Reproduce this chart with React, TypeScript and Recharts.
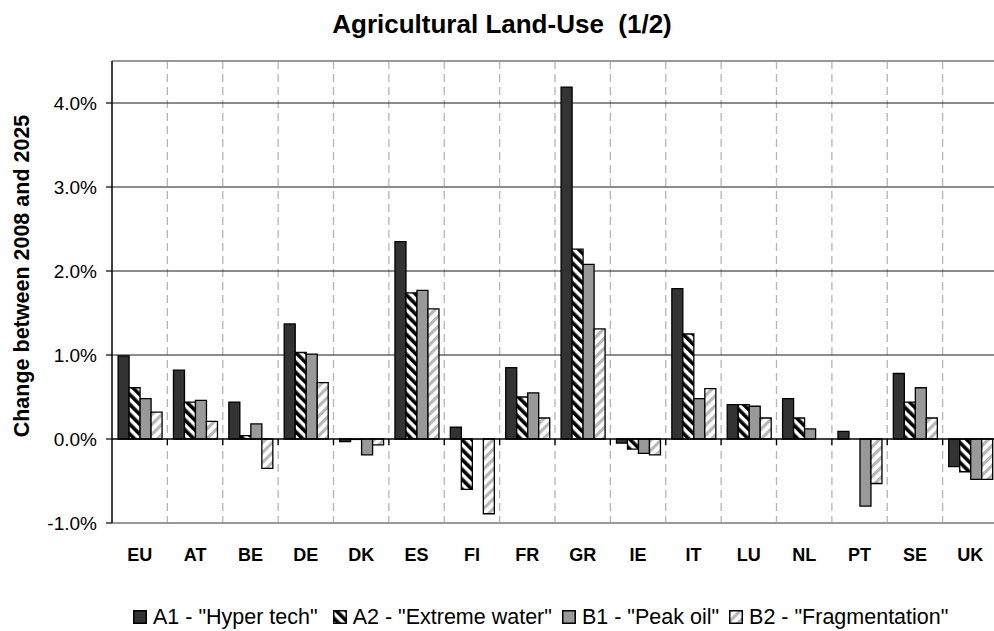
import React from 'react';
import { BarChart, Bar, XAxis, YAxis, CartesianGrid, ReferenceLine, Legend } from 'recharts';

const categories = ['EU', 'AT', 'BE', 'DE', 'DK', 'ES', 'FI', 'FR', 'GR', 'IE', 'IT', 'LU', 'NL', 'PT', 'SE', 'UK'];
const a1HyperTech = [0.99, 0.82, 0.44, 1.37, -0.03, 2.35, 0.14, 0.85, 4.19, -0.05, 1.79, 0.41, 0.48, 0.09, 0.78, -0.33];
const a2ExtremeWater = [0.61, 0.44, 0.04, 1.03, -0.005, 1.74, -0.6, 0.5, 2.26, -0.12, 1.25, 0.41, 0.25, 0.0, 0.44, -0.39];
const b1PeakOil = [0.48, 0.46, 0.18, 1.01, -0.19, 1.77, 0.0, 0.55, 2.08, -0.17, 0.48, 0.39, 0.12, -0.8, 0.61, -0.48];
const b2Fragmentation = [0.32, 0.21, -0.35, 0.67, -0.07, 1.55, -0.89, 0.25, 1.31, -0.19, 0.6, 0.25, 0.0, -0.53, 0.25, -0.48];
const yTicks = [-1, 0, 1, 2, 3, 4];
const gridValues = [1, 2, 3, 4];
const yDomain = [-1, 4.5];

const seriesNames = {
  a1: 'A1 - "Hyper tech"',
  a2: 'A2 - "Extreme water"',
  b1: 'B1 - "Peak oil"',
  b2: 'B2 - "Fragmentation"',
};

const data = categories.map((c, i) => ({
  cat: c,
  a1: a1HyperTech[i],
  a2: a2ExtremeWater[i],
  b1: b1PeakOil[i],
  b2: b2Fragmentation[i],
}));

const FONT = '"Liberation Sans", Arial, sans-serif';

const fills: Record<string, string> = {
  a1: '#333333',
  a2: 'url(#patA2)',
  b1: '#999999',
  b2: 'url(#patB2)',
};

const Patterns = () => (
  <svg width={0} height={0} style={{ position: 'absolute' }}>
    <defs>
      <pattern id="patA2" patternUnits="userSpaceOnUse" width={7} height={7} patternTransform="rotate(-45)">
        <rect x={0} y={0} width={7} height={7} fill="#ffffff" />
        <rect x={0} y={0} width={3.6} height={7} fill="#000000" />
      </pattern>
      <pattern id="patB2" patternUnits="userSpaceOnUse" width={7} height={7} patternTransform="rotate(45)">
        <rect x={0} y={0} width={7} height={7} fill="#ffffff" />
        <rect x={0} y={0} width={3.2} height={7} fill="#b8b8b8" />
      </pattern>
    </defs>
  </svg>
);

const LegendContent = () => {
  const keys = ['a1', 'a2', 'b1', 'b2'];
  return (
    <div style={{ display: 'flex', alignItems: 'center', paddingLeft: 133, fontFamily: FONT, fontSize: 21.5, lineHeight: '22px', color: '#000', whiteSpace: 'nowrap' }}>
      {keys.map((k, i) => (
        <div key={k} style={{ display: 'flex', alignItems: 'center', marginRight: i === 0 ? 15 : 10 }}>
          <svg width={14} height={14} style={{ marginRight: 6, flex: 'none' }}>
            <rect x={0.75} y={0.75} width={12.5} height={12.5} fill={fills[k]} stroke="#000" strokeWidth={1.5} />
          </svg>
          <span>{(seriesNames as any)[k]}</span>
        </div>
      ))}
    </div>
  );
};

const ZeroLine = (props: any) => {
  const { x1, y1, x2, y2 } = props;
  const n = categories.length;
  const step = (x2 - x1) / n;
  const marks = [];
  for (let i = 1; i < n; i++) {
    const x = x1 + i * step;
    marks.push(<line key={i} x1={x} y1={y1} x2={x} y2={y1 + 6} stroke="#000" strokeWidth={1.3} />);
  }
  return (
    <g>
      <line x1={x1} y1={y1} x2={x2} y2={y2} stroke="#000" strokeWidth={1.3} />
      {marks}
    </g>
  );
};

export default function App() {
  return (
    <div style={{ position: 'fixed', left: 0, top: 0, width: 994, height: 631, overflow: 'hidden', background: '#fff' }}>
      <Patterns />
      <div
        style={{
          position: 'absolute',
          left: 0,
          top: 11,
          width: 1004,
          textAlign: 'center',
          fontFamily: FONT,
          fontWeight: 'bold',
          fontSize: 26,
          lineHeight: '26px',
          color: '#000',
          whiteSpace: 'pre',
        }}
      >
        {'Agricultural Land-Use  (1/2)'}
      </div>
      <BarChart
        width={1010}
        height={631}
        data={data}
        margin={{ top: 61, right: 12, bottom: 68, left: 0 }}
        barCategoryGap="11%"
        barGap={0}
        style={{ position: 'absolute', left: 0, top: 0 }}
      >
        <CartesianGrid
          horizontal={false}
          vertical={true}
          stroke="#b5b5b5"
          strokeWidth={1.3}
          strokeDasharray="8 5"
          verticalCoordinatesGenerator={({ offset }: any) => {
            const n = categories.length;
            const out: number[] = [];
            for (let i = 1; i < n; i++) out.push(offset.left + (i * offset.width) / n);
            return out;
          }}
        />
        <CartesianGrid
          vertical={false}
          horizontal={true}
          stroke="#1a1a1a"
          strokeWidth={1.2}
          horizontalCoordinatesGenerator={({ yAxis, offset }: any) => {
            if (yAxis && typeof yAxis.scale === 'function') {
              return gridValues.map((v) => yAxis.scale(v));
            }
            return gridValues.map((v) => offset.top + ((yDomain[1] - v) / (yDomain[1] - yDomain[0])) * offset.height);
          }}
        />
        <XAxis
          dataKey="cat"
          axisLine={{ stroke: '#999999', strokeWidth: 2 }}
          tickLine={false}
          tickSize={0}
          tickMargin={25}
          height={40}
          interval={0}
          tick={{ fontFamily: FONT, fontSize: 18, fontWeight: 'bold', fill: '#000' }}
        />
        <YAxis
          domain={yDomain}
          ticks={yTicks}
          allowDataOverflow
          width={112}
          axisLine={{ stroke: '#000', strokeWidth: 1.5 }}
          tickLine={{ stroke: '#000', strokeWidth: 1.2 }}
          tickSize={6}
          tickMargin={9}
          tickFormatter={(v: number) => `${v.toFixed(1)}%`}
          tick={{ fontFamily: FONT, fontSize: 19, fill: '#000' }}
          label={{
            content: () => (
              <text
                x={22}
                y={276}
                transform="rotate(-90 22 276)"
                textAnchor="middle"
                dominantBaseline="central"
                fontFamily={FONT}
                fontWeight="bold"
                fontSize={21.5}
                fill="#000"
              >
                Change between 2008 and 2025
              </text>
            ),
          }}
        />
        <ReferenceLine y={yDomain[1]} stroke="#999999" strokeWidth={2} />
        <Bar dataKey="a1" name={seriesNames.a1} fill={fills.a1} stroke="#000" strokeWidth={1.3} isAnimationActive={false} />
        <Bar dataKey="a2" name={seriesNames.a2} fill={fills.a2} stroke="#000" strokeWidth={1.3} isAnimationActive={false} />
        <Bar dataKey="b1" name={seriesNames.b1} fill={fills.b1} stroke="#000" strokeWidth={1.3} isAnimationActive={false} />
        <Bar dataKey="b2" name={seriesNames.b2} fill={fills.b2} stroke="#000" strokeWidth={1.3} isAnimationActive={false} />
        <ReferenceLine y={0} shape={(p: any) => <ZeroLine {...p} />} />
        <Legend
          layout="horizontal"
          verticalAlign="middle"
          align="center"
          wrapperStyle={{ top: 605.5, left: 0, width: 994 }}
          content={() => <LegendContent />}
        />
      </BarChart>
    </div>
  );
}
